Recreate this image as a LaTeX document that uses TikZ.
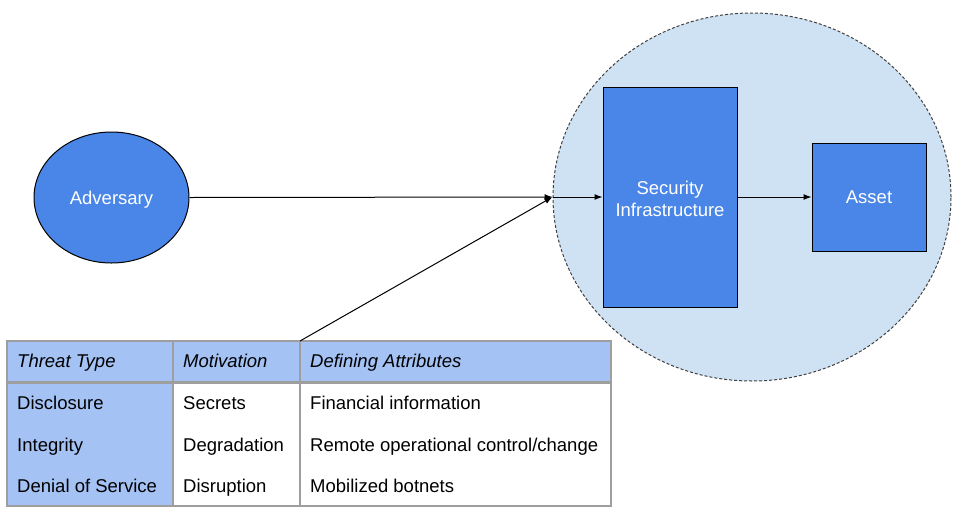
\documentclass[tikz,border=0pt]{standalone}
\usepackage{fontspec}
\setmainfont{Liberation Sans}
\usetikzlibrary{shapes.geometric,arrows.meta}
\definecolor{nodeblue}{HTML}{4A86E8}
\definecolor{zonefill}{HTML}{CFE2F3}
\definecolor{headblue}{HTML}{A4C2F4}
\definecolor{gridgray}{HTML}{9E9E9E}
\tikzset{
  bluenode/.style={draw=black, line width=1pt, fill=nodeblue, text=white, font=\fontsize{18.5}{22}\selectfont, align=center, inner sep=0pt, text height=13.3pt, text depth=0pt},
  whitelabel/.style={text=white, font=\fontsize{18.5}{22}\selectfont, align=center, inner sep=0pt},
  cell/.style={anchor=base west, font=\fontsize{18.5}{22}\selectfont, inner sep=0pt},
  hcell/.style={cell, font=\fontsize{18.5}{22}\selectfont\itshape},
  conn/.style={line width=1pt, -{Latex[length=8pt,width=6pt]}},
}
\begin{document}
\begin{tikzpicture}[x=1pt,y=-1pt]
\useasboundingbox (0,0) rectangle (968,517);
% zone
\node[ellipse, draw=black!75, dash pattern=on 3pt off 2pt, line width=1pt, fill=zonefill, minimum width=398pt, minimum height=368pt, inner sep=0pt] (zone) at (752,197) {};
\node[bluenode, ellipse, minimum width=155pt, minimum height=131pt] (adv) at (111.5,197.5) {Adversary};
\node[bluenode, rectangle, minimum width=134pt, minimum height=220pt] (sec) at (670,197) {};
\node[whitelabel] (seclabel) at (670,198.5) {Security\\Infrastructure};
\node[bluenode, rectangle, minimum width=114pt, minimum height=108pt] (asset) at (869,197) {Asset};
% table
\fill[headblue] (7,341) rectangle (611,382);
\fill[headblue] (7,382) rectangle (173,506);
\draw[gridgray, line width=1.2pt] (7,341) rectangle (611,506);
\draw[gridgray, line width=1.2pt] (173,341) -- (173,506);
\draw[gridgray, line width=1.2pt] (300,341) -- (300,506);
\draw[gridgray, line width=3pt] (7,382) -- (611,382);
\coordinate (tabtop) at (300,341);
\node[hcell] (h1) at (17,367.5) {Threat Type};
\node[hcell] (h2) at (183,367.5) {Motivation};
\node[hcell] (h3) at (310,367.5) {Defining Attributes};
\node[cell] (a1) at (17,409.5) {Disclosure};
\node[cell] (b1) at (183,409.5) {Secrets};
\node[cell] (c1) at (310,409.5) {Financial information};
\node[cell] (a2) at (17,451) {Integrity};
\node[cell] (b2) at (183,451) {Degradation};
\node[cell] (c2) at (310,451) {Remote operational control/change};
\node[cell] (a3) at (17,492.5) {Denial of Service};
\node[cell] (b3) at (183,492.5) {Disruption};
\node[cell] (c3) at (310,492.5) {Mobilized botnets};
% connectors
\draw[conn] (adv.east) -- (zone.west);
\draw[conn] (zone.west) -- (sec.west);
\draw[conn] (sec.east) -- (asset.west);
\draw[conn] (tabtop) -- (zone.west);
\end{tikzpicture}
\end{document}
